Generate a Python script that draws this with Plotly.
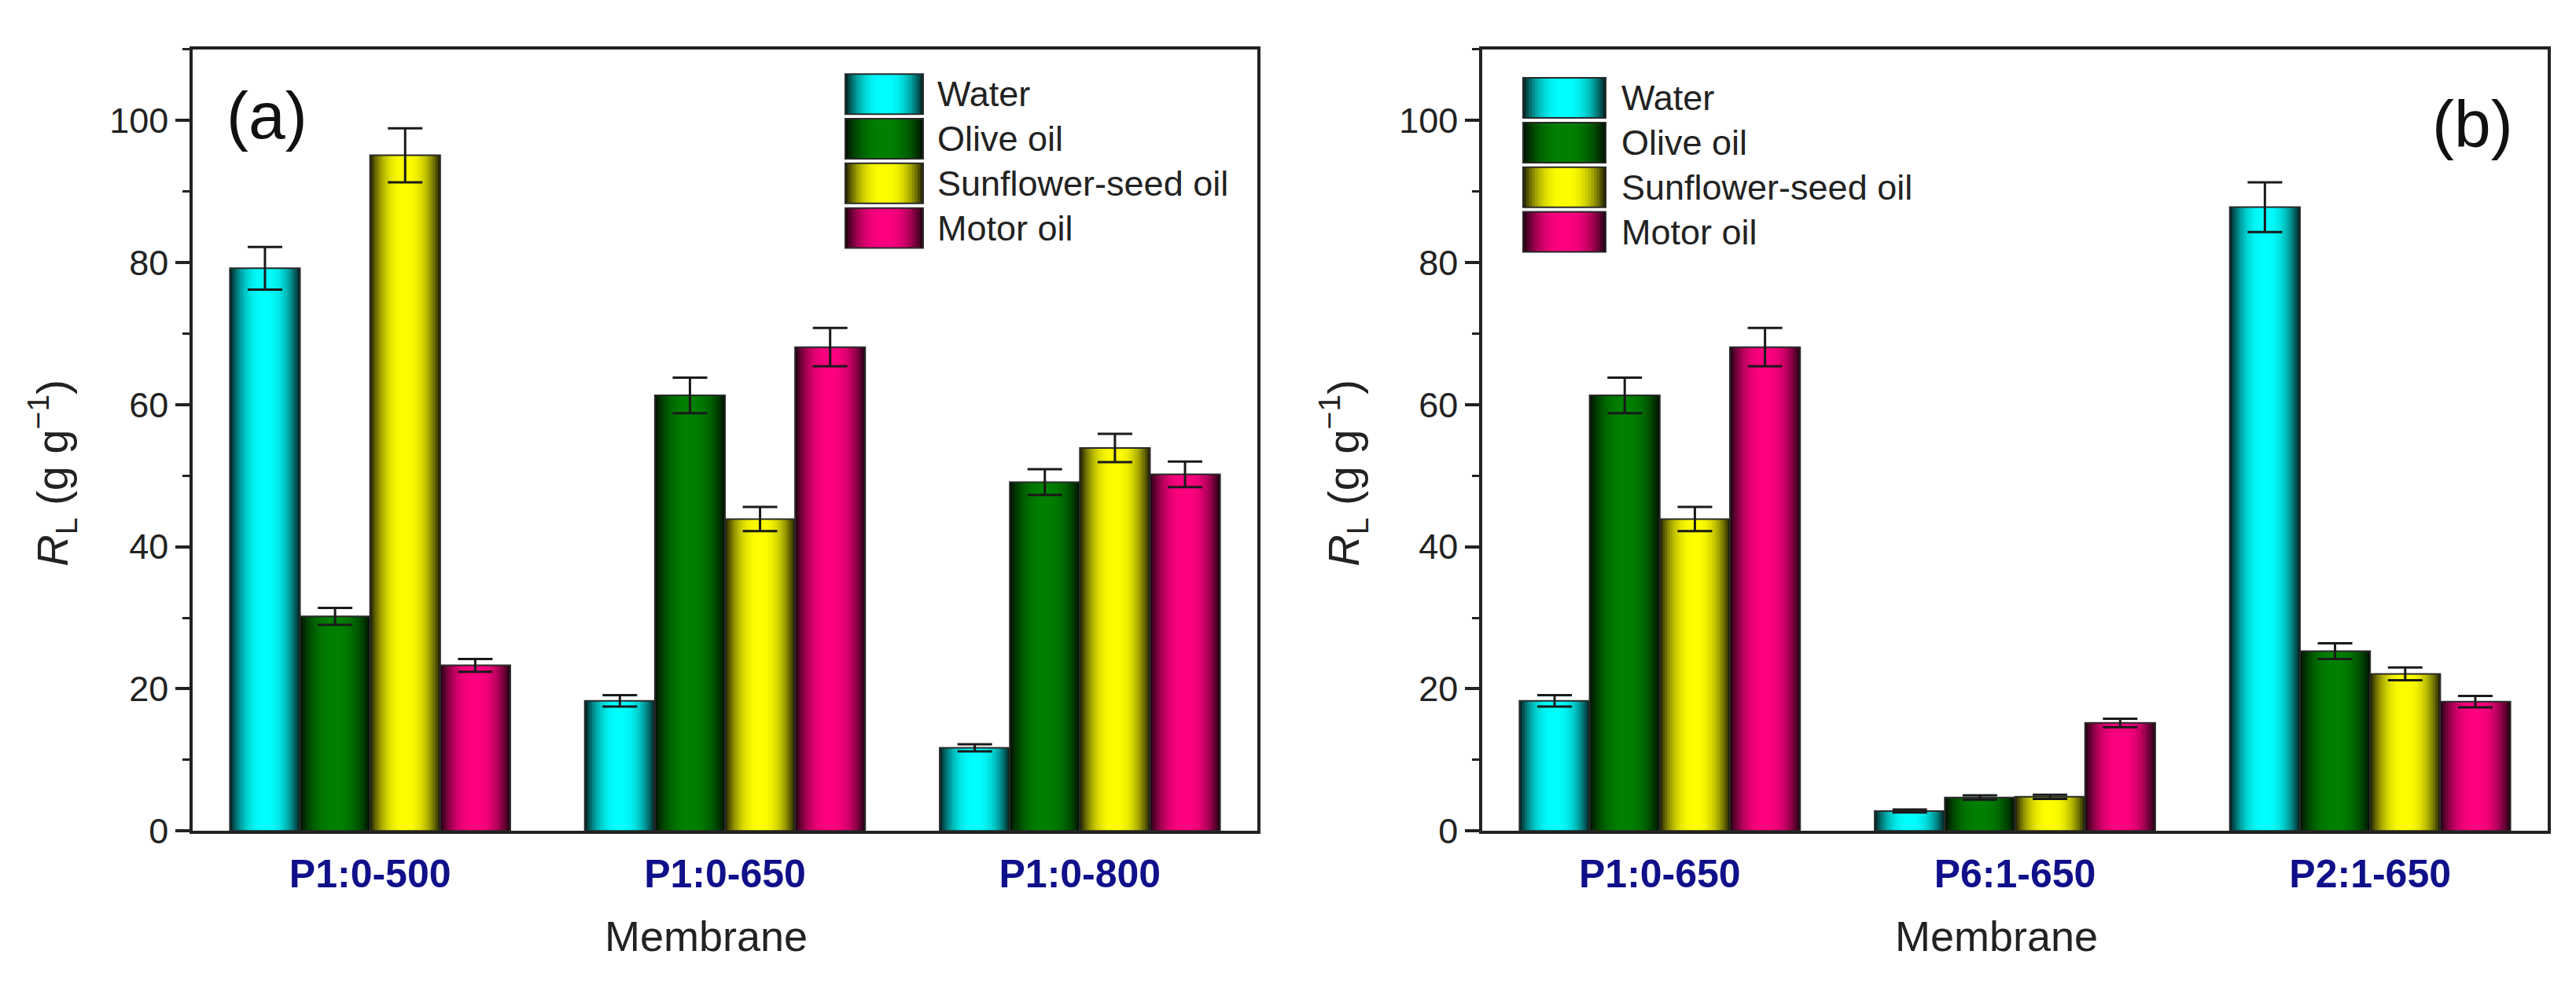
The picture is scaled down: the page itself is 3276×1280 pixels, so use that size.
import plotly.graph_objects as go

W, H = 3276, 1280

series = ["Water", "Olive oil", "Sunflower-seed oil", "Motor oil"]
base_rgb = [(0, 255, 255), (0, 128, 0), (255, 255, 0), (255, 0, 128)]

# panel (a)
membranes_a = ["P1:0-500", "P1:0-650", "P1:0-800"]
water_a = [79.2, 18.3, 11.7]
olive_a = [30.2, 61.3, 49.1]
sunflower_a = [95.1, 43.9, 53.9]
motor_a = [23.3, 68.1, 50.2]
water_a_err = [3.0, 0.8, 0.5]
olive_a_err = [1.2, 2.5, 1.8]
sunflower_a_err = [3.8, 1.7, 2.0]
motor_a_err = [0.9, 2.7, 1.8]

# panel (b)
membranes_b = ["P1:0-650", "P6:1-650", "P2:1-650"]
water_b = [18.3, 2.8, 87.8]
olive_b = [61.3, 4.7, 25.3]
sunflower_b = [43.9, 4.8, 22.1]
motor_b = [68.1, 15.2, 18.2]
water_b_err = [0.8, 0.2, 3.5]
olive_b_err = [2.5, 0.3, 1.1]
sunflower_b_err = [1.7, 0.3, 0.9]
motor_b_err = [2.7, 0.6, 0.8]

FONT = "Liberation Sans, Arial, sans-serif"
INK = "#222222"
NAVY = "#10108a"
N = 14            # gradient steps per bar
GROUP = 0.79
BW = GROUP / 4


def shade(rgb, t):
    # t = 0 at bar centre, 1 at the edge
    f = 1 - 0.9 * t ** 2.4
    return "rgb(%d,%d,%d)" % tuple(int(c * f) for c in rgb)


def px(x):
    return x / W


def py(y):
    return 1 - y / H


fig = go.Figure()


def add_panel(cats, vals, errs, xa, ya):
    x = [1, 2, 3]
    for i in range(4):
        left = -GROUP / 2 + i * BW
        centre = left + BW / 2
        for k in range(N):
            w = BW * (1 - k / N)
            t = 1 - (k + 0.5) / N
            fig.add_trace(go.Bar(
                x=x, y=vals[i], width=w, offset=centre - w / 2,
                marker=dict(color=shade(base_rgb[i], t), line=dict(width=0)),
                xaxis=xa, yaxis=ya, showlegend=False, hoverinfo="skip"))
        fig.add_trace(go.Bar(
            x=x, y=vals[i], width=BW, offset=left, name=series[i],
            marker=dict(color="rgba(0,0,0,0)", line=dict(color="#2a2a2a", width=2)),
            error_y=dict(type="data", array=errs[i], color="#1a1a1a",
                         thickness=3, width=22),
            xaxis=xa, yaxis=ya, showlegend=False))


add_panel(membranes_a, [water_a, olive_a, sunflower_a, motor_a],
          [water_a_err, olive_a_err, sunflower_a_err, motor_a_err], "x", "y")
add_panel(membranes_b, [water_b, olive_b, sunflower_b, motor_b],
          [water_b_err, olive_b_err, sunflower_b_err, motor_b_err], "x2", "y2")

ydom = [py(1071), py(56)]
panels = [
    # axis left/right px, legend swatch x0/x1, legend top, text x, panel label pos
    dict(x0=237, x1=1591, sw=(1067, 1166), top=88, tx=1182, lab="(a)", lx=331, ly=142,
         ytx=58, cats=membranes_a),
    dict(x0=1877, x1=3232, sw=(1929, 2034), top=93, tx=2052, lab="(b)", lx=3136, ly=153,
         ytx=1700, cats=membranes_b),
]

axis_common = dict(showline=True, linewidth=3.5, linecolor=INK, mirror=True,
                   showgrid=False, zeroline=False)
for n, p in enumerate(panels):
    sfx = "" if n == 0 else "2"
    fig.layout["xaxis" + sfx] = dict(
        domain=[px(p["x0"]), px(p["x1"])], range=[0.5, 3.5],
        tickvals=[1, 2, 3], ticktext=p["cats"],
        tickfont=dict(family=FONT, size=50, color=NAVY, weight="bold"),
        ticks="outside", ticklen=8, tickcolor="rgba(0,0,0,0)",
        anchor="y" + sfx, **axis_common)
    fig.layout["yaxis" + sfx] = dict(
        domain=ydom, range=[0, 110], tick0=0, dtick=20,
        ticks="outside", ticklen=18, tickwidth=3.5, tickcolor=INK,
        minor=dict(dtick=10, tick0=0, ticks="outside", ticklen=9,
                   tickwidth=3, tickcolor=INK, showgrid=False),
        tickfont=dict(family=FONT, size=45, color=INK),
        anchor="x" + sfx, **axis_common)

shapes = []
annotations = []
for p in panels:
    sx0, sx1 = p["sw"]
    xc = (sx0 + sx1) / 2
    for i in range(4):
        y0 = p["top"] + i * 58
        y1 = y0 + 52
        for k in range(N):
            half = (sx1 - sx0) / 2 * (1 - k / N)
            t = 1 - (k + 0.5) / N
            shapes.append(dict(type="rect", xref="paper", yref="paper",
                               x0=px(xc - half), x1=px(xc + half), y0=py(y1), y1=py(y0),
                               fillcolor=shade(base_rgb[i], t), line=dict(width=0)))
        shapes.append(dict(type="rect", xref="paper", yref="paper",
                           x0=px(sx0), x1=px(sx1), y0=py(y1), y1=py(y0),
                           line=dict(color="#2a2a2a", width=2)))
        annotations.append(dict(text=series[i], xref="paper", yref="paper",
                                x=px(p["tx"]), y=py((y0 + y1) / 2), xanchor="left",
                                yanchor="middle", showarrow=False,
                                font=dict(family=FONT, size=45, color=INK)))
    annotations.append(dict(text=p["lab"], xref="paper", yref="paper",
                            x=px(p["lx"]), y=py(p["ly"]), xanchor="center",
                            yanchor="middle", showarrow=False,
                            font=dict(family=FONT, size=84, color="#111111")))
    annotations.append(dict(text="Membrane", xref="paper", yref="paper",
                            x=px((p["x0"] + p["x1"]) / 2 - 24), y=py(1208),
                            xanchor="center", yanchor="middle", showarrow=False,
                            font=dict(family=FONT, size=54, color=INK)))
    annotations.append(dict(text="<i>R</i><sub>L</sub> (g g<sup>\u22121</sup>)",
                            xref="paper", yref="paper", x=px(p["ytx"]), y=py(606),
                            xanchor="center", yanchor="middle", textangle=-90,
                            showarrow=False, font=dict(family=FONT, size=56, color=INK)))

fig.update_layout(
    width=W, height=H, barmode="overlay",
    margin=dict(l=0, r=0, t=0, b=0),
    paper_bgcolor="white", plot_bgcolor="white",
    shapes=shapes, annotations=annotations,
    showlegend=False,
)

fig.write_html("out.html")
